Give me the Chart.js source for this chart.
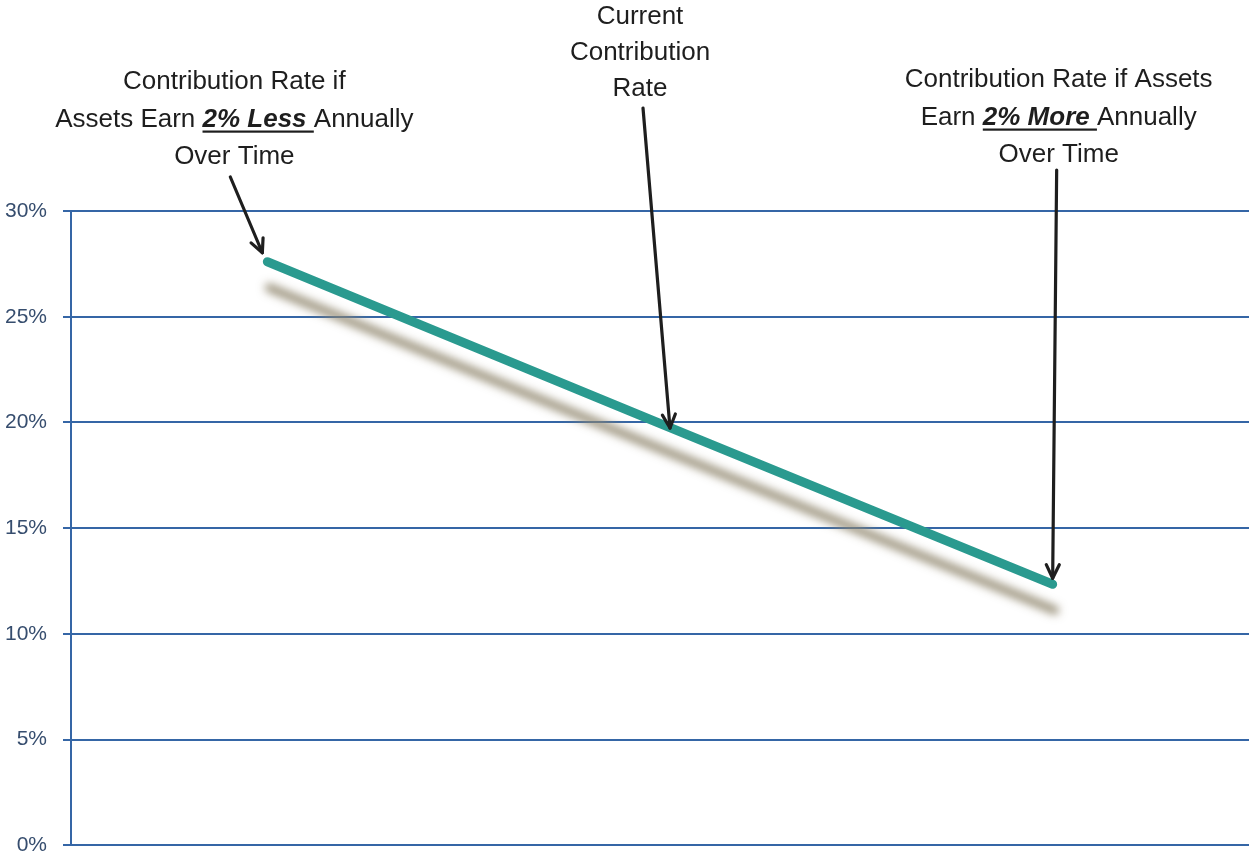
<!DOCTYPE html>
<html>
<head>
<meta charset="utf-8">
<title>Contribution Rate Sensitivity</title>
<script src="https://cdn.jsdelivr.net/npm/chart.js@4/dist/chart.umd.min.js"></script>
<style>
  html, body { margin: 0; padding: 0; background: #ffffff; overflow: hidden; }
  #wrap { width: 1249px; height: 860px; overflow: hidden; }
  canvas { display: block; }
</style>
</head>
<body>
<div id="wrap">
  <canvas id="chart" width="1249" height="874" style="width:1249px;height:874px"></canvas>
</div>
<script>
// Scenarios along the line and the employer contribution rate for each (%)
const scenarios = ['Assets earn 2% less', 'Current', 'Assets earn 2% more'];
const contributionRates = [27.6, 19.95, 12.35];

// Y axis range and tick step (%)
const yMin = 0;
const yMax = 30;
const yStep = 5;

// Callout text per scenario: each line is a list of [text, emphasised]
const calloutLines = [
  [
    [['Contribution Rate if', false]],
    [['Assets Earn ', false], ['2% Less ', true], ['Annually', false]],
    [['Over Time', false]]
  ],
  [
    [['Current', false]],
    [['Contribution', false]],
    [['Rate', false]]
  ],
  [
    [['Contribution Rate if Assets', false]],
    [['Earn ', false], ['2% More ', true], ['Annually', false]],
    [['Over Time', false]]
  ]
];

// Placement of each callout relative to its point on the line (pixels)
const calloutLayout = [
  { textDx: -33, firstLineY: 82, lineGap: 37.5, tailDx: -37, tailY: 177, tipDx: -5, tipDy: -9 },
  { textDx: -20, firstLineY: 17, lineGap: 36,   tailDx: -17, tailY: 108, tipDx: 10, tipDy: 4.5 },
  { textDx: 6,   firstLineY: 80, lineGap: 37.5, tailDx: 4,   tailY: 170, tipDx: 0,  tipDy: -6 }
];

const FONT_FAMILY = 'Arial, "Liberation Sans", Helvetica, sans-serif';
const TEXT_SIZE = 26;

// Soft drop shadow beneath the line
const lineShadow = {
  id: 'lineShadow',
  beforeDatasetDraw(chart) {
    const ctx = chart.ctx;
    ctx.save();
    ctx.shadowColor = 'rgba(145, 135, 110, 0.85)';
    ctx.shadowOffsetX = 2;
    ctx.shadowOffsetY = 26;
    ctx.shadowBlur = 8;
  },
  afterDatasetDraw(chart) {
    chart.ctx.restore();
  }
};

function drawRichLine(ctx, parts, cx, y) {
  const fonts = parts.map(p => (p[1] ? 'italic bold ' : '') + TEXT_SIZE + 'px ' + FONT_FAMILY);
  let total = 0;
  const widths = parts.map((p, i) => {
    ctx.font = fonts[i];
    const w = ctx.measureText(p[0]).width;
    total += w;
    return w;
  });
  let x = cx - total / 2;
  parts.forEach((p, i) => {
    ctx.font = fonts[i];
    ctx.fillText(p[0], x, y);
    if (p[1]) {
      ctx.fillRect(x, y + 11, widths[i], 2.2);
    }
    x += widths[i];
  });
}

function drawArrow(ctx, x1, y1, x2, y2) {
  const ang = Math.atan2(y2 - y1, x2 - x1);
  const head = 15;
  const spread = Math.PI / 7;
  ctx.beginPath();
  ctx.moveTo(x1, y1);
  ctx.lineTo(x2, y2);
  ctx.stroke();
  ctx.beginPath();
  ctx.moveTo(x2 - head * Math.cos(ang - spread), y2 - head * Math.sin(ang - spread));
  ctx.lineTo(x2, y2);
  ctx.lineTo(x2 - head * Math.cos(ang + spread), y2 - head * Math.sin(ang + spread));
  ctx.stroke();
}

// Callout labels with arrows pointing at each scenario on the line
const callouts = {
  id: 'callouts',
  afterDraw(chart) {
    const ctx = chart.ctx;
    const pts = chart.getDatasetMeta(0).data;
    ctx.save();
    ctx.fillStyle = '#1e1e1e';
    ctx.strokeStyle = '#1e1e1e';
    ctx.lineWidth = 3.2;
    ctx.lineCap = 'round';
    ctx.lineJoin = 'round';
    ctx.textBaseline = 'middle';
    ctx.textAlign = 'left';
    pts.forEach((pt, i) => {
      const lay = calloutLayout[i];
      calloutLines[i].forEach((parts, j) => {
        drawRichLine(ctx, parts, pt.x + lay.textDx, lay.firstLineY + j * lay.lineGap);
      });
      drawArrow(ctx, pt.x + lay.tailDx, lay.tailY, pt.x + lay.tipDx, pt.y + lay.tipDy);
    });
    ctx.restore();
  }
};

const gridBlue = '#3566a6';

new Chart(document.getElementById('chart'), {
  type: 'line',
  data: {
    labels: scenarios,
    datasets: [{
      data: contributionRates,
      borderColor: '#2a9a8f',
      borderWidth: 9,
      borderCapStyle: 'round',
      pointRadius: 0,
      tension: 0,
      fill: false
    }]
  },
  options: {
    responsive: false,
    maintainAspectRatio: false,
    animation: false,
    layout: { padding: { top: 211, bottom: 1, left: 0, right: 0 } },
    plugins: {
      legend: { display: false },
      tooltip: { enabled: false },
      title: { display: false }
    },
    scales: {
      x: {
        type: 'category',
        offset: true,
        display: false
      },
      y: {
        min: yMin,
        max: yMax,
        ticks: {
          stepSize: yStep,
          padding: 16,
          color: '#364d6e',
          font: { family: FONT_FAMILY, size: 21 },
          callback: v => v + '%'
        },
        grid: {
          color: gridBlue,
          lineWidth: 2,
          drawTicks: true,
          tickLength: 8
        },
        border: { display: true, color: gridBlue, width: 2 },
        afterFit(scale) { scale.width = 71; }
      }
    }
  },
  plugins: [lineShadow, callouts]
});
</script>
</body>
</html>
